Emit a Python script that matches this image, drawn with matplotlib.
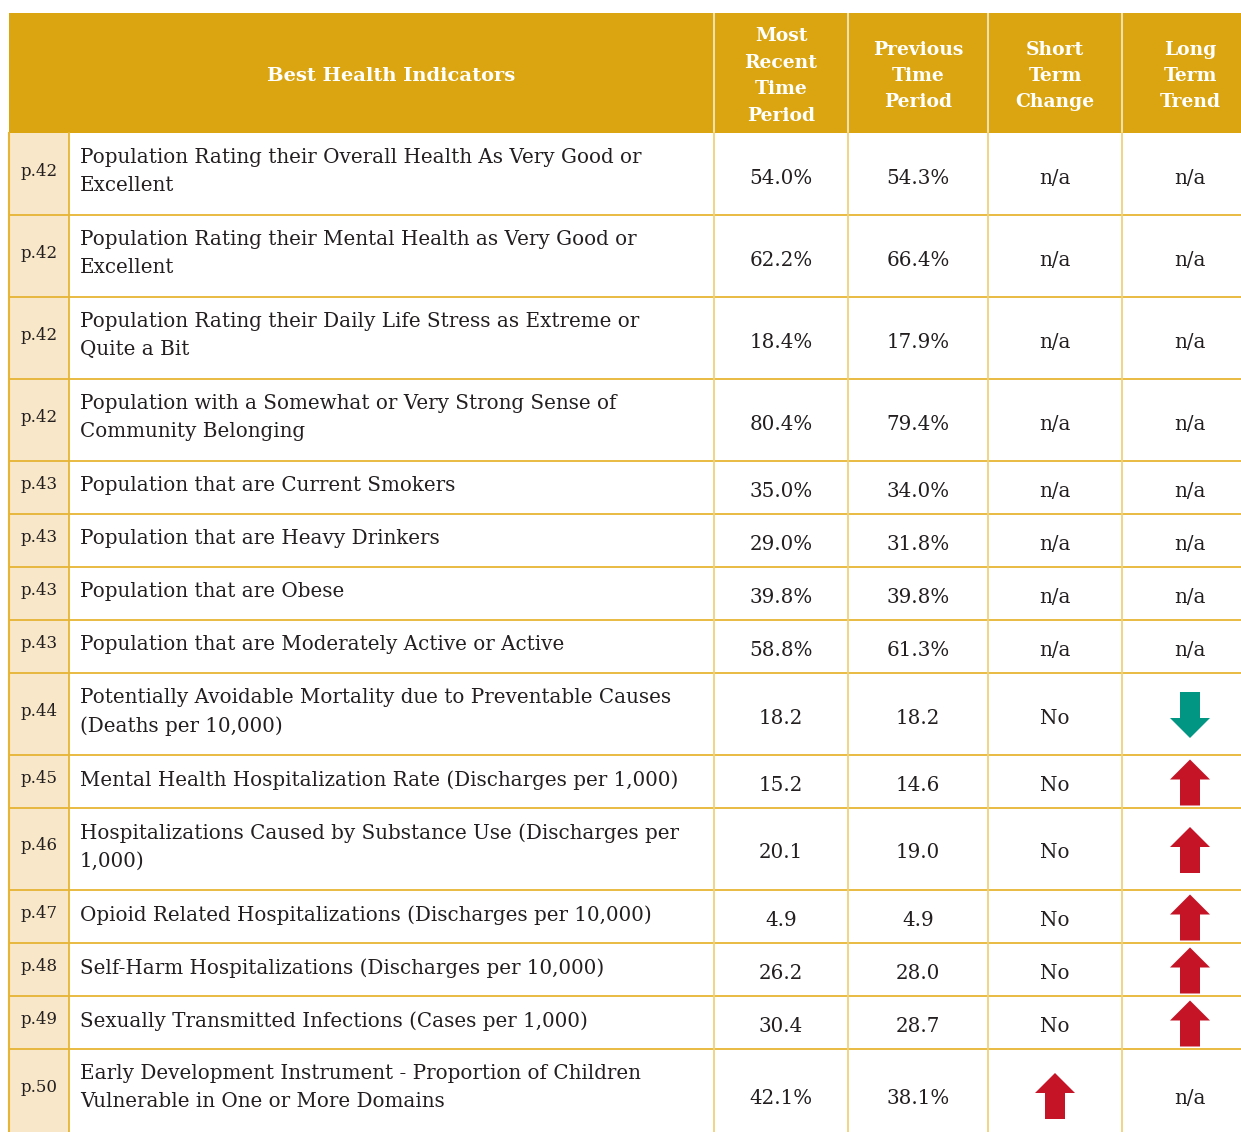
import matplotlib
matplotlib.use('Agg')
import matplotlib.pyplot as plt
import matplotlib.patches as mpatch

pages = ['p.42', 'p.42', 'p.42', 'p.42', 'p.43', 'p.43', 'p.43', 'p.43',
         'p.44', 'p.45', 'p.46', 'p.47', 'p.48', 'p.49', 'p.50']
indicators = [
    'Population Rating their Overall Health As Very Good or\nExcellent',
    'Population Rating their Mental Health as Very Good or\nExcellent',
    'Population Rating their Daily Life Stress as Extreme or\nQuite a Bit',
    'Population with a Somewhat or Very Strong Sense of\nCommunity Belonging',
    'Population that are Current Smokers',
    'Population that are Heavy Drinkers',
    'Population that are Obese',
    'Population that are Moderately Active or Active',
    'Potentially Avoidable Mortality due to Preventable Causes\n(Deaths per 10,000)',
    'Mental Health Hospitalization Rate (Discharges per 1,000)',
    'Hospitalizations Caused by Substance Use (Discharges per\n1,000)',
    'Opioid Related Hospitalizations (Discharges per 10,000)',
    'Self-Harm Hospitalizations (Discharges per 10,000)',
    'Sexually Transmitted Infections (Cases per 1,000)',
    'Early Development Instrument - Proportion of Children\nVulnerable in One or More Domains',
]
most_recent = ['54.0%', '62.2%', '18.4%', '80.4%', '35.0%', '29.0%', '39.8%', '58.8%',
               '18.2', '15.2', '20.1', '4.9', '26.2', '30.4', '42.1%']
previous = ['54.3%', '66.4%', '17.9%', '79.4%', '34.0%', '31.8%', '39.8%', '61.3%',
            '18.2', '14.6', '19.0', '4.9', '28.0', '28.7', '38.1%']
short_change = ['n/a'] * 8 + ['No'] * 6 + ['up']
long_trend = ['n/a'] * 8 + ['down', 'up', 'up', 'up', 'up', 'up', 'n/a']

col_headers = ['Best Health Indicators', 'Most\nRecent\nTime\nPeriod',
               'Previous\nTime\nPeriod', 'Short\nTerm\nChange', 'Long\nTerm\nTrend']

# ---------------- style ----------------
GOLD = '#DAA510'
CREAM = '#F8E7C8'
HLINE = '#E6B534'
VLINE = '#F0D27C'
TXT = '#231F20'
RED = '#C41426'
TEAL = '#009683'
FONT = 'DejaVu Serif'

W, H = 1241, 1132
col_x = [9, 69, 714, 848, 988, 1122, 1258]   # last column runs past the picture edge
header_top, header_bot = 13, 133
single_h, extra_line_h = 53, 29


def draw_arrow(ax, cx, cy, direction, color):
    hw, sw, hh, total = 20, 10, 20, 46
    if direction == 'up':
        tip, base = cy - total / 2, cy + total / 2
        neck = tip + hh
    else:
        tip, base = cy + total / 2, cy - total / 2
        neck = tip - hh
    pts = [(cx, tip), (cx + hw, neck), (cx + sw, neck), (cx + sw, base),
           (cx - sw, base), (cx - sw, neck), (cx - hw, neck)]
    ax.add_patch(mpatch.Polygon(pts, closed=True, facecolor=color, edgecolor='none', zorder=4))


def draw_cell_value(ax, cx, cy, value):
    if value in ('up', 'down'):
        draw_arrow(ax, cx, cy + 1, value, RED if value == 'up' else TEAL)
    else:
        ax.text(cx, cy + 4, value, ha='center', va='center', fontsize=14.3,
                family=FONT, color=TXT, zorder=4)


fig = plt.figure(figsize=(W / 100, H / 100), dpi=100)
ax = fig.add_axes([0, 0, 1, 1])
ax.set_xlim(0, W)
ax.set_ylim(H, 0)
ax.axis('off')

# header band
ax.add_patch(mpatch.Rectangle((col_x[0], header_top), col_x[-1] - col_x[0],
                              header_bot - header_top, facecolor=GOLD, edgecolor='none'))
ax.text((col_x[1] + col_x[2]) / 2, (header_top + header_bot) / 2 + 3, col_headers[0],
        ha='center', va='center', fontsize=14, fontweight='bold', color='white', family=FONT)
for i, lab in enumerate(col_headers[1:]):
    x0, x1 = col_x[i + 2], col_x[i + 3]
    ax.text((x0 + x1) / 2, (header_top + header_bot) / 2 + 3, lab, ha='center', va='center',
            fontsize=13.5, fontweight='bold', color='white', family=FONT, linespacing=1.6)
    ax.plot([x0, x0], [header_top, header_bot], color='white', lw=1.2, alpha=0.8)

# body rows (the last row is cut off by the picture edge)
y = header_bot
for i in range(len(pages)):
    nlines = indicators[i].count('\n') + 1
    h = single_h + extra_line_h * (nlines - 1)
    if i == len(pages) - 1:
        h += 10
    ax.add_patch(mpatch.Rectangle((col_x[0], y), col_x[1] - col_x[0], h,
                                  facecolor=CREAM, edgecolor='none'))
    ax.text((col_x[0] + col_x[1]) / 2, y + 7 + nlines * extra_line_h / 2, pages[i],
            ha='center', va='center_baseline', fontsize=12, family=FONT, color=TXT)
    ax.text(col_x[1] + 11, y + 15, indicators[i], ha='left', va='top', fontsize=14.3,
            family=FONT, color=TXT, linespacing=1.6)
    cy = y + h / 2
    for j, val in enumerate([most_recent[i], previous[i], short_change[i], long_trend[i]]):
        draw_cell_value(ax, (col_x[j + 2] + col_x[j + 3]) / 2, cy, val)
    y += h
    ax.plot([col_x[0], W], [y, y], color=HLINE, lw=1.3, zorder=3)

# vertical grid lines in body
for x in col_x[1:-1]:
    ax.plot([x, x], [header_bot, H], color=VLINE if x != col_x[1] else HLINE, lw=1.3, zorder=3)
ax.plot([col_x[0], col_x[0]], [header_bot, H], color=HLINE, lw=1.5, zorder=3)

fig.savefig('out.png', dpi=100, facecolor='white')
